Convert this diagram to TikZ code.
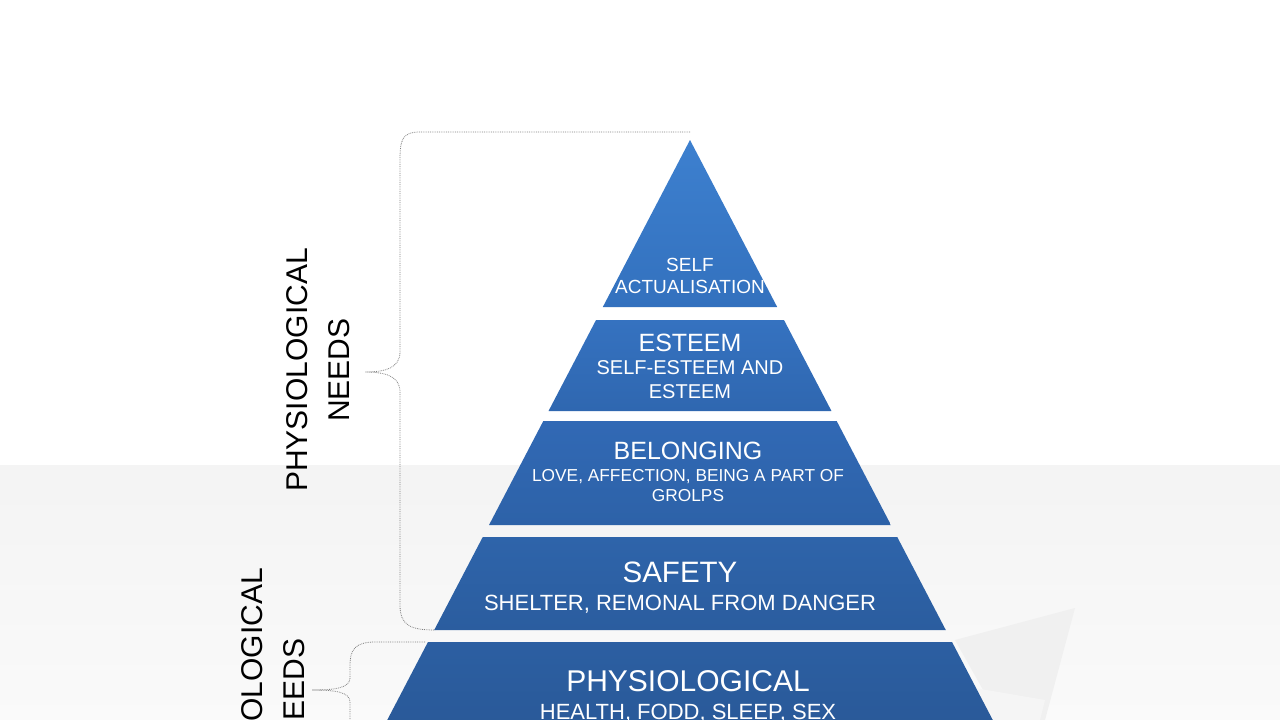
\documentclass[tikz,border=0pt]{standalone}
\usepackage{fontspec}
\setmainfont{Liberation Sans}
\definecolor{b1t}{HTML}{3D80CF}\definecolor{b1b}{HTML}{3371BE}
\definecolor{b2t}{HTML}{3572C0}\definecolor{b2b}{HTML}{2F67B0}
\definecolor{b3t}{HTML}{3169B5}\definecolor{b3b}{HTML}{2D62A8}
\definecolor{b4t}{HTML}{2E64AA}\definecolor{b4b}{HTML}{2B5D9F}
\definecolor{b5t}{HTML}{2C5FA2}\definecolor{b5b}{HTML}{295897}
\begin{document}
\begin{tikzpicture}[x=1pt,y=-1pt,
  band/.style 2 args={top color=#1, bottom color=#2, draw=none},
  brace/.style={draw=gray, densely dotted, line width=0.8pt},
  lbl/.style={text=white, align=center, font=\fontsize{19}{22}\selectfont},
  ttl/.style={text=white},
  side/.style={rotate=90, align=center, font=\fontsize{30}{42}\selectfont}]
\useasboundingbox (0,0) rectangle (1280,720);
\fill[white] (0,0) rectangle (1280,720);
\shade[top color=gray!9, bottom color=gray!4] (0,465) rectangle (1280,720);
\fill[gray!12] (955,640) -- (1075,608) -- (1045,720) -- (1000,720) -- cycle;
\fill[gray!8] (975,688) -- (1045,700) -- (1040,720) -- (990,720) -- cycle;
\def\w#1{(0.522*(#1-140))}
\shade[band={b1t}{b1b}] (690,140) -- ({690-\w{307}},307) -- ({690+\w{307}},307) -- cycle;
\shade[band={b2t}{b2b}] ({690-\w{320}},320) -- ({690+\w{320}},320) -- ({690+\w{411}},411) -- ({690-\w{411}},411) -- cycle;
\shade[band={b3t}{b3b}] ({690-\w{421}},421) -- ({690+\w{421}},421) -- ({690+\w{525}},525) -- ({690-\w{525}},525) -- cycle;
\shade[band={b4t}{b4b}] ({690-\w{537}},537) -- ({690+\w{537}},537) -- ({690+\w{630}},630) -- ({690-\w{630}},630) -- cycle;
\shade[band={b5t}{b5b}] ({690-\w{642}},642) -- ({690+\w{642}},642) -- ({690+\w{740}},740) -- ({690-\w{740}},740) -- cycle;
\node[lbl] (sa) at (690,276) {SELF\\ACTUALISATION};
\node[ttl,font=\fontsize{25}{28}\selectfont] (es) at (690,343) {ESTEEM};
\node[lbl,font=\fontsize{20}{24}\selectfont] (es2) at (690,380) {SELF-ESTEEM AND\\ESTEEM};
\node[ttl,font=\fontsize{25}{28}\selectfont] (be) at (688,451) {BELONGING};
\node[lbl,font=\fontsize{17.3}{20}\selectfont] (be2) at (688,486) {LOVE, AFFECTION, BEING A PART OF\\GROLPS};
\node[ttl,font=\fontsize{29.5}{32}\selectfont] (sf) at (680,572) {SAFETY};
\node[lbl,font=\fontsize{22}{24}\selectfont] (sf2) at (680,604) {SHELTER, REMONAL FROM DANGER};
\node[ttl,font=\fontsize{30}{32}\selectfont] (ph) at (688,681) {PHYSIOLOGICAL};
\node[lbl,font=\fontsize{22}{24}\selectfont] (ph2) at (688,713) {HEALTH, FODD, SLEEP, SEX};
\node[side] (n1) at (318,370) {PHYSIOLOGICAL\\NEEDS};
\node[side] (n2) at (273,690) {PHYSIOLOGICAL\\NEEDS};
\draw[brace] (690,132) -- (420,132) .. controls (402,132) and (400,140) .. (400,160) -- (400,352) .. controls (400,368) and (385,372) .. (365,372) .. controls (385,372) and (400,376) .. (400,392) -- (400,605) .. controls (400,625) and (410,630) .. (435,630);
\draw[brace] (425,642) -- (375,642) .. controls (355,642) and (350,650) .. (350,665) -- (350,678) .. controls (350,688) and (335,690) .. (312,690) .. controls (335,690) and (350,692) .. (350,702) -- (350,720);
\end{tikzpicture}
\end{document}
